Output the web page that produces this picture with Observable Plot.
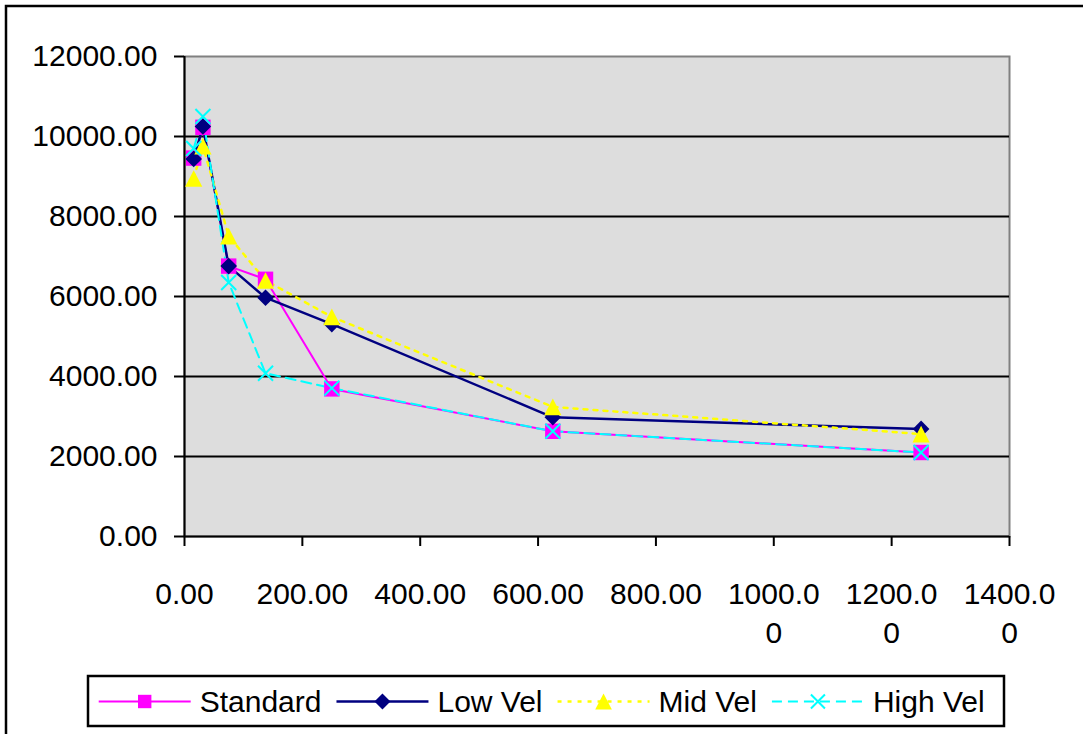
<!DOCTYPE html>
<html>
<head>
<meta charset="utf-8">
<script src="https://cdn.jsdelivr.net/npm/d3@7"></script>
<script src="https://cdn.jsdelivr.net/npm/@observablehq/plot@0.6"></script>
<style>
  html, body { margin: 0; padding: 0; background: white; }
  #chart svg { display: block; }
</style>
</head>
<body>
<div id="chart"></div>
<script>
// ---- data ----
const xValues = [15.6, 31.25, 75, 137.5, 250, 625, 1250];
const standard = [9460, 10230, 6760, 6430, 3690, 2630, 2100];
const lowVel   = [9440, 10250, 6760, 5970, 5310, 2980, 2690];
const midVel   = [8950, 9760, 7510, 6400, 5490, 3240, 2560];
const highVel  = [9700, 10500, 6350, 4080, 3710, 2630, 2100];
const seriesNames = ["Standard", "Low Vel", "Mid Vel", "High Vel"];
const xTicks = [0, 200, 400, 600, 800, 1000, 1200, 1400];
const yTicks = [0, 2000, 4000, 6000, 8000, 10000, 12000];

// ---- symbols (fixed half-size h, independent of Plot's size) ----
const makeSquare = h => ({draw(ctx) { ctx.rect(-h, -h, 2 * h, 2 * h); }});
const makeDiamond = h => ({draw(ctx) { ctx.moveTo(0, -h); ctx.lineTo(h, 0); ctx.lineTo(0, h); ctx.lineTo(-h, 0); ctx.closePath(); }});
const makeTriangle = h => ({draw(ctx) { ctx.moveTo(0, -h); ctx.lineTo(1.04 * h, h); ctx.lineTo(-1.04 * h, h); ctx.closePath(); }});
const makeTimes = h => ({draw(ctx) { ctx.moveTo(-h, -h); ctx.lineTo(h, h); ctx.moveTo(-h, h); ctx.lineTo(h, -h); }});

const series = [
  {name: seriesNames[0], values: standard, color: "#ff00ff", dash: null, width: 2, symbol: makeSquare(7.7), legendSymbol: makeSquare(6.7), filled: true},
  {name: seriesNames[1], values: lowVel, color: "#000080", dash: null, width: 2.5, symbol: makeDiamond(8.3), legendSymbol: makeDiamond(8), filled: true},
  {name: seriesNames[2], values: midVel, color: "#ffff00", dash: "4 6", width: 2.5, symbol: makeTriangle(8.3), legendSymbol: makeTriangle(8), filled: true},
  {name: seriesNames[3], values: highVel, color: "#00ffff", dash: "10 6", width: 2, symbol: makeTimes(7.5), legendSymbol: makeTimes(7), filled: false}
];
const rows = s => xValues.map((x, i) => ({x, y: s.values[i]}));

const fmtY = d3.format(".2f");
const fmtX = d => { const s = d3.format(".2f")(d); return s.length > 6 ? s.slice(0, 6) + "\n" + s.slice(6) : s; };

const marks = [
  Plot.frame({fill: "#dddddd"}),
  Plot.frame({stroke: "#808080", strokeWidth: 2}),
  Plot.ruleY(yTicks.filter(d => d > 0 && d < 12000), {stroke: "black", strokeWidth: 2}),
  Plot.ruleX([0], {stroke: "black", strokeWidth: 2}),
  Plot.ruleY([0], {stroke: "black", strokeWidth: 2}),
  Plot.axisY({ticks: yTicks, tickFormat: fmtY, tickSize: 10, tickPadding: 17, fontSize: 30, stroke: "black", strokeWidth: 2, label: null}),
  Plot.axisX({ticks: xTicks, tickFormat: fmtX, tickSize: 10, tickPadding: 29, fontSize: 30, lineHeight: 1.32, stroke: "black", strokeWidth: 2, label: null})
];
for (const s of series) {
  marks.push(Plot.line(rows(s), {x: "x", y: "y", stroke: s.color, strokeWidth: s.width, strokeDasharray: s.dash}));
}
for (const s of series) {
  marks.push(Plot.dot(rows(s), {x: "x", y: "y", symbol: s.symbol, r: 5,
    fill: s.filled ? s.color : "none", stroke: s.filled ? "none" : s.color, strokeWidth: s.filled ? 0 : 2}));
}

const chart = Plot.plot({
  width: 1083,
  height: 734,
  marginLeft: 184,
  marginRight: 74,
  marginTop: 56,
  marginBottom: 198,
  style: {fontFamily: "'Liberation Sans', Arial, sans-serif", fontSize: "30px", background: "white", color: "black"},
  x: {domain: [0, 1400]},
  y: {domain: [0, 12000]},
  marks
});
document.getElementById("chart").appendChild(chart);

// ---- outer border & legend ----
const svg = d3.select(chart);
svg.append("rect").attr("x", 6).attr("y", 6).attr("width", 1100).attr("height", 760)
  .attr("fill", "none").attr("stroke", "black").attr("stroke-width", 2.5);

const lg = svg.append("g").attr("font-family", "'Liberation Sans', Arial, sans-serif").attr("font-size", 30)
  .attr("text-anchor", "start");
lg.append("rect").attr("x", 88).attr("y", 676).attr("width", 916).attr("height", 50)
  .attr("fill", "white").attr("stroke", "black").attr("stroke-width", 2.5);
const ly = 701.5;
let lx = 98.7;
for (const s of series) {
  lg.append("line").attr("x1", lx).attr("x2", lx + 92).attr("y1", ly).attr("y2", ly)
    .attr("stroke", s.color).attr("stroke-width", s.width)
    .attr("stroke-dasharray", s.dash);
  const p = d3.path();
  s.legendSymbol.draw(p);
  lg.append("path").attr("d", p.toString()).attr("transform", `translate(${lx + 46},${ly})`)
    .attr("fill", s.filled ? s.color : "none").attr("stroke", s.filled ? "none" : s.color).attr("stroke-width", 2);
  const t = lg.append("text").attr("x", lx + 101).attr("y", ly).attr("dy", "0.35em")
    .attr("text-anchor", "start").attr("fill", "black").text(s.name);
  lx = lx + 101 + t.node().getComputedTextLength() + 15;
}
</script>
</body>
</html>
